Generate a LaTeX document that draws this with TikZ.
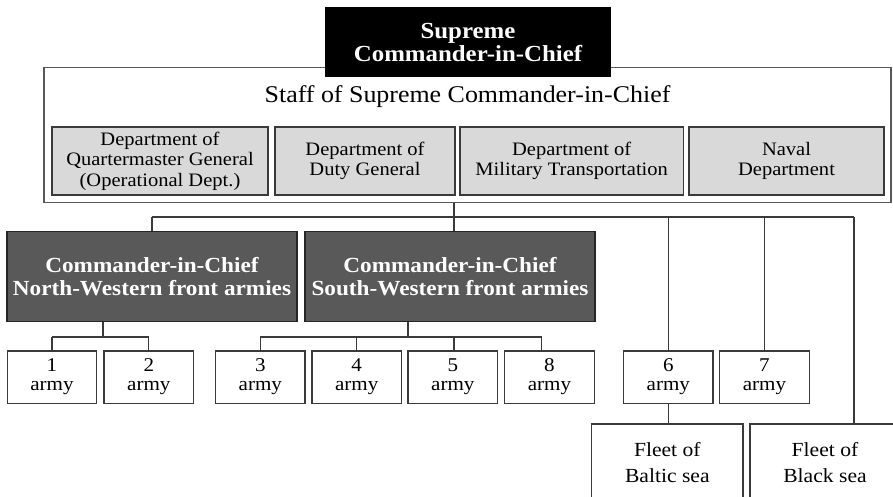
\documentclass[tikz,border=0pt]{standalone}
\usepackage{fontspec}
\setmainfont{Liberation Serif}[FakeStretch=1.08]
\definecolor{deptgray}{HTML}{D9D9D9}
\definecolor{frontgray}{HTML}{595959}
\definecolor{edgegray}{HTML}{3A3A3A}
\tikzset{
  box/.style={draw=edgegray, line width=1.3pt, rectangle, inner sep=0pt, align=center},
  chiefbox/.style={box, fill=black, draw=black, text=white, font=\bfseries\fontsize{23}{23}\selectfont},
  staffbox/.style={box, draw=edgegray!85, line width=1.5pt},
  deptbox/.style={box, fill=deptgray, minimum height=68pt, font=\fontsize{19}{20.5}\selectfont},
  frontbox/.style={box, fill=frontgray, draw=black!85, text=white, minimum width=290pt, minimum height=90pt,
    font=\bfseries\fontsize{21.5}{22.5}\selectfont},
  armybox/.style={box, fill=white, minimum width=89.5pt, minimum height=52.3pt, font=\fontsize{19.5}{19}\selectfont},
  fleetbox/.style={box, fill=white, minimum height=78pt, font=\fontsize{20}{26}\selectfont},
  link/.style={draw=edgegray, line width=1.3pt}
}
\begin{document}
\begin{tikzpicture}[x=1pt, y=-1pt]
\clip (0,0) rectangle (893,497);
\fill[white] (0,0) rectangle (893,497);

% headquarters staff with its departments
\node[staffbox, minimum width=847pt, minimum height=135pt] (staff) at (467.5,135) {};
\node[font=\fontsize{24}{24}\selectfont] (stafftitle) at (467.5,97) {Staff of Supreme Commander-in-Chief};
\node[chiefbox, minimum width=284pt, minimum height=68.5pt] (chief) at (468,42.3) {Supreme\\Commander-in-Chief};

\node[deptbox, minimum width=216pt] (d1) at (160,161) {Department of\\Quartermaster General\\(Operational Dept.)};
\node[deptbox, minimum width=180pt] (d2) at (365,161) {Department of\\Duty General};
\node[deptbox, minimum width=223.5pt] (d3) at (571.7,161) {Department of\\Military Transportation};
\node[deptbox, minimum width=195pt] (d4) at (786.5,161) {Naval\\Department};

% front commands
\node[frontbox] (nw) at (152,276.7) {Commander-in-Chief\\North-Western front armies};
\node[frontbox] (sw) at (450,276.7) {Commander-in-Chief\\South-Western front armies};

% armies
\node[armybox] (a1) at (52,377) {1\\army};
\node[armybox] (a2) at (148.8,377) {2\\army};
\node[armybox] (a3) at (260.3,377) {3\\army};
\node[armybox] (a4) at (356.7,377) {4\\army};
\node[armybox] (a5) at (452.8,377) {5\\army};
\node[armybox] (a8) at (549.5,377) {8\\army};
\node[armybox] (a6) at (668.3,377) {6\\army};
\node[armybox] (a7) at (764.5,377) {7\\army};

% fleets
\node[fleetbox, minimum width=151.5pt] (fbaltic) at (667.3,463) {Fleet of\\Baltic sea};
\node[fleetbox, minimum width=150pt] (fblack) at (825,463) {Fleet of\\Black sea};

% junction points
\coordinate (hub) at (454,217);
\coordinate (busend) at (854,217);
\coordinate (nwj) at (103,337);
\coordinate (swj) at (408,337);
\coordinate (a8j) at (541.7,337);

% staff to commands
\draw[link] (hub |- staff.south) -- (hub);
\draw[link] (nw.north |- hub) -- (busend);
\draw[link] (nw.north |- hub) -- (nw.north);
\draw[link] (hub) -- (hub |- sw.north);
\draw[link] (a6.north |- hub) -- (a6.north);
\draw[link] (a7.north |- hub) -- (a7.north);
\draw[link] (busend) -- (busend |- fblack.north);

% north-western front
\draw[link] (nwj |- nw.south) -- (nwj);
\draw[link] (a1.north |- nwj) -- (a2.north |- nwj);
\draw[link] (a1.north |- nwj) -- (a1.north);
\draw[link] (a2.north |- nwj) -- (a2.north);

% south-western front
\draw[link] (swj |- sw.south) -- (swj);
\draw[link] (a3.north |- swj) -- (a8j);
\draw[link] (a3.north |- swj) -- (a3.north);
\draw[link] (a4.north |- swj) -- (a4.north);
\draw[link] (hub |- swj) -- (hub |- a5.north);
\draw[link] (a8j) -- (a8j |- a8.north);

% sixth army to the Baltic fleet
\draw[link] (a6.south) -- (a6.south |- fbaltic.north);
\end{tikzpicture}
\end{document}
